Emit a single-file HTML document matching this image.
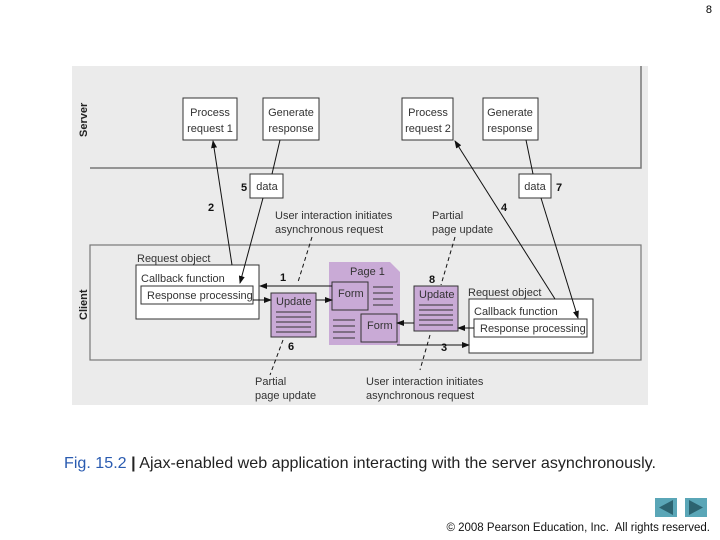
<!DOCTYPE html>
<html><head><meta charset="utf-8"><style>
body{margin:0;width:720px;height:540px;background:#fff;position:relative;overflow:hidden;font-family:"Liberation Sans",sans-serif}
.a{position:absolute}
</style></head><body>
<div class="a" style="right:8px;top:4px;font-size:11px">8</div>
<svg class="a" style="left:0;top:0" width="720" height="540" font-family="Liberation Sans, sans-serif" font-size="11" fill="#333">
<defs><marker id="ar" markerWidth="8" markerHeight="6" refX="7" refY="3" orient="auto" markerUnits="userSpaceOnUse"><path d="M0,0L8,3L0,6z" fill="#111"/></marker></defs>
<rect x="72" y="66" width="576" height="339" fill="#ebebeb"/>
<polyline points="90,168 641,168 641,66" fill="none" stroke="#777" stroke-width="1.5"/>
<rect x="90" y="245" width="551" height="115" fill="none" stroke="#777" stroke-width="1.2"/>
<text transform="translate(87,137) rotate(-90)" font-weight="bold" font-size="11" fill="#222">Server</text>
<text transform="translate(87,320) rotate(-90)" font-weight="bold" font-size="11" fill="#222">Client</text>
<g fill="#fff" stroke="#333" stroke-width="1">
<rect x="183" y="98" width="54" height="42"/><rect x="263" y="98" width="56" height="42"/>
<rect x="402" y="98" width="51" height="42"/><rect x="483" y="98" width="55" height="42"/>
<rect x="250" y="174" width="33" height="24"/><rect x="519" y="174" width="32" height="24"/>
</g>
<g text-anchor="middle">
<text x="210" y="116">Process</text><text x="210" y="132">request 1</text>
<text x="291" y="116">Generate</text><text x="291" y="132">response</text>
<text x="428" y="116">Process</text><text x="428" y="132">request 2</text>
<text x="510" y="116">Generate</text><text x="510" y="132">response</text>
<text x="267" y="190">data</text><text x="535" y="190">data</text>
</g>
<g font-weight="bold" font-size="11" fill="#111">
<text x="241" y="191">5</text><text x="556" y="191">7</text><text x="208" y="211">2</text><text x="501" y="211">4</text>
<text x="280" y="281">1</text><text x="429" y="283">8</text><text x="288" y="350">6</text><text x="441" y="351">3</text>
</g>
<text x="275" y="219">User interaction initiates</text><text x="275" y="233">asynchronous request</text>
<text x="432" y="219">Partial</text><text x="432" y="233">page update</text>
<text x="255" y="385">Partial</text><text x="255" y="399">page update</text>
<text x="366" y="385">User interaction initiates</text><text x="366" y="399">asynchronous request</text>
<text x="137" y="262">Request object</text>
<rect x="136" y="265" width="123" height="54" fill="#fff" stroke="#333"/>
<text x="141" y="282">Callback function</text>
<rect x="141" y="286" width="112" height="18" fill="#fff" stroke="#333"/>
<text x="147" y="299">Response processing</text>
<text x="468" y="296">Request object</text>
<rect x="469" y="299" width="124" height="54" fill="#fff" stroke="#333"/>
<text x="474" y="315">Callback function</text>
<rect x="474" y="319" width="113" height="18" fill="#fff" stroke="#333"/>
<text x="480" y="332">Response processing</text>
<path d="M329,262 H390 L400,272 V345 H329 Z" fill="#c9aad6"/>
<text x="350" y="275" fill="#333">Page 1</text>
<g stroke="#333" stroke-width="1">
<path d="M373,287h20M373,293h20M373,299h20M373,305h20M333,320h22M333,326h22M333,332h22M333,338h22"/>
</g>
<rect x="332" y="282" width="36" height="28" fill="#c9aad6" stroke="#333"/>
<text x="338" y="297">Form</text>
<rect x="361" y="314" width="36" height="28" fill="#c9aad6" stroke="#333"/>
<text x="367" y="329">Form</text>
<rect x="271" y="293" width="45" height="44" fill="#c9aad6" stroke="#333"/>
<text x="276" y="305">Update</text>
<path d="M276,312h35M276,317h35M276,322h35M276,327h35M276,332h35" stroke="#333"/>
<rect x="414" y="286" width="44" height="45" fill="#c9aad6" stroke="#333"/>
<text x="419" y="298">Update</text>
<path d="M419,305h34M419,310h34M419,315h34M419,320h34M419,325h34" stroke="#333"/>
<g stroke="#111" stroke-width="1" fill="none" marker-end="url(#ar)">
<path d="M232,265 L213,141"/><path d="M263,198 L240,283"/>
<path d="M332,286 L260,286"/><path d="M253,300 L271,300"/><path d="M316,300 L332,300"/>
<path d="M555,299 L455,141"/><path d="M541,198 L578,318"/>
<path d="M474,328 L458,328"/><path d="M414,323 L397,323"/><path d="M397,345 L469,345"/>
</g>
<path d="M280,140 L272,174M526,140 L533,174" stroke="#111"/>
<g stroke="#111" stroke-dasharray="4,3" fill="none">
<path d="M312,237 L298,282"/><path d="M455,237 L441,285"/>
<path d="M283,340 L270,375"/><path d="M430,335 L420,370"/>
</g>
</svg>
<div class="a" style="left:64px;top:454px;font-size:16.1px;color:#222;white-space:nowrap"><span style="color:#2a5bb0">Fig. 15.2</span> <b>|</b> Ajax-enabled web application interacting with the server asynchronously.</div>
<div class="a" style="left:655px;top:498px;width:22px;height:19px;background:#5aa6b7"><svg width="22" height="19"><path d="M4,9.5L18,2V17z" fill="#2c6370"/></svg></div>
<div class="a" style="left:685px;top:498px;width:22px;height:19px;background:#5aa6b7"><svg width="22" height="19"><path d="M18,9.5L4,2V17z" fill="#2c6370"/></svg></div>
<div class="a" style="right:10px;top:522px;font-size:11.5px;color:#111;white-space:nowrap">© 2008 Pearson Education, Inc.&nbsp; All rights reserved.</div>
</body></html>
